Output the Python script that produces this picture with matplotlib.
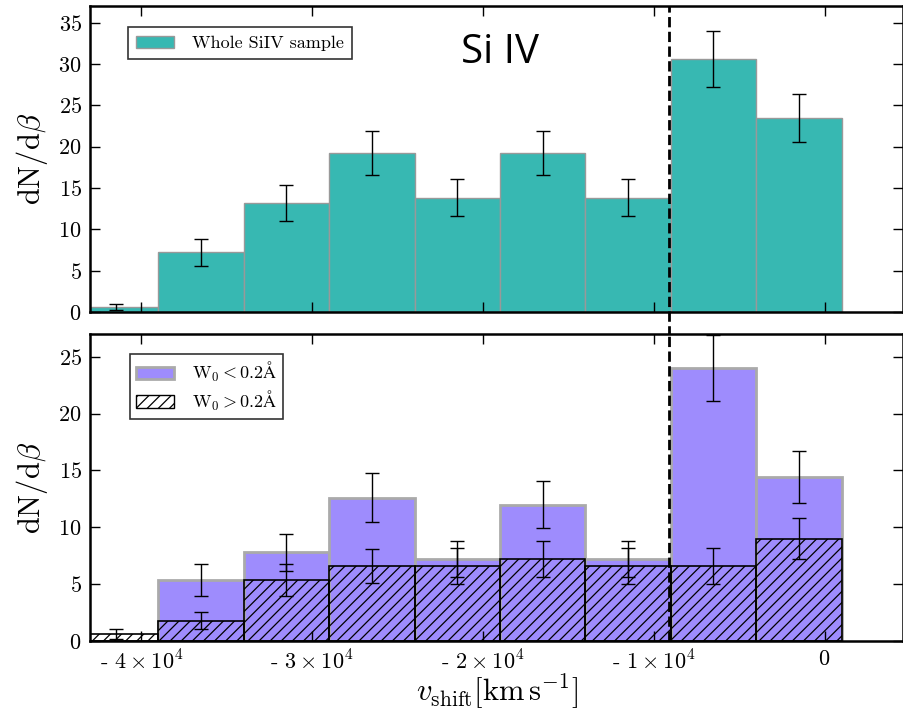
import numpy as np
import matplotlib
matplotlib.use('Agg')
import matplotlib.pyplot as plt
from matplotlib.patches import Patch

plt.rcParams['mathtext.fontset'] = 'cm'
plt.rcParams['font.family'] = 'serif'
plt.rcParams['font.serif'] = ['cmr10']
plt.rcParams['axes.formatter.use_mathtext'] = True
plt.rcParams['hatch.linewidth'] = 0.9

# bin centres of the velocity shift histogram [km/s], bin width 5000
bin_centers = [-41500, -36500, -31500, -26500, -21500, -16500, -11500, -6500, -1500]
bin_width = 5000

# whole SiIV sample
whole = [0.6, 7.2, 13.2, 19.2, 13.8, 19.2, 13.8, 30.6, 23.4]
whole_err = [0.4, 1.6, 2.2, 2.65, 2.25, 2.65, 2.25, 3.35, 2.9]

# W0 < 0.2 A
weak = [0.0, 5.4, 7.8, 12.6, 7.2, 12.0, 7.2, 24.0, 14.4]
weak_err = [0.0, 1.4, 1.65, 2.15, 1.6, 2.1, 1.6, 2.9, 2.27]

# W0 > 0.2 A
strong = [0.6, 1.8, 5.4, 6.6, 6.6, 7.2, 6.6, 6.6, 9.0]
strong_err = [0.43, 0.78, 1.4, 1.5, 1.55, 1.6, 1.55, 1.55, 1.79]

xticks = [-40000, -30000, -20000, -10000, 0]
xtick_labels = ['- ' + r'$4\times10^{4}$', '- ' + r'$3\times10^{4}$',
                '- ' + r'$2\times10^{4}$', '- ' + r'$1\times10^{4}$', r'$0$']
yticks_top = [0, 5, 10, 15, 20, 25, 30, 35]
yticks_bot = [0, 5, 10, 15, 20, 25]
v_cut = -9100

teal = '#37b8b2'
purple = '#9e8cfd'

fig = plt.figure(figsize=(9.04, 7.13), dpi=100)
ax1 = fig.add_axes([0.0996, 0.5624, 0.8994, 0.4292])
ax2 = fig.add_axes([0.0996, 0.1010, 0.8994, 0.4306])

# top panel
ax1.bar(bin_centers, whole, width=bin_width, color=teal, edgecolor='#999999',
        linewidth=1.0, label='Whole SiIV sample')
ax1.errorbar(bin_centers, whole, yerr=whole_err, fmt='none', ecolor='k',
             elinewidth=1, capsize=5, capthick=1)
ax1.set_ylim(0, 37)
ax1.set_yticks(yticks_top)
ax1.set_yticklabels([r'$%d$' % t for t in yticks_top])
ax1.text(-19000, 31.3, 'Si IV', fontsize=29, family='Open Sans',
         ha='center', va='center')
leg1 = ax1.legend(loc='upper left', bbox_to_anchor=(0.0467, 0.93), fontsize=13,
                  frameon=True, fancybox=False, handlelength=2.1,
                  borderpad=0.45, handletextpad=1.0, borderaxespad=0)
leg1.get_frame().set_edgecolor('k')
leg1.get_frame().set_linewidth(1.2)
ax1.axvline(v_cut, ymin=-0.08, ymax=1, color='k', ls='--', lw=2, clip_on=False)

# bottom panel
ax2.bar(bin_centers, weak, width=bin_width, color=purple, edgecolor='#aaaaaa',
        linewidth=2.0)
ax2.bar(bin_centers, strong, width=bin_width, fill=False, edgecolor='k',
        linewidth=1.2, hatch='///')
ax2.errorbar(bin_centers[1:], weak[1:], yerr=weak_err[1:], fmt='none', ecolor='k',
             elinewidth=1, capsize=5, capthick=1)
ax2.errorbar(bin_centers, strong, yerr=strong_err, fmt='none', ecolor='k',
             elinewidth=1, capsize=5, capthick=1)
ax2.set_ylim(0, 27)
ax2.set_yticks(yticks_bot)
ax2.set_yticklabels([r'$%d$' % t for t in yticks_bot])
ax2.axvline(v_cut, color='k', ls='--', lw=2)
handles = [Patch(facecolor=purple, edgecolor='#aaaaaa', linewidth=2),
           Patch(fill=False, edgecolor='k', hatch='///')]
labels = [r'$\mathrm{W_0} < 0.2\mathrm{\AA}$', r'$\mathrm{W_0} > 0.2\mathrm{\AA}$']
leg2 = ax2.legend(handles, labels, loc='upper left', bbox_to_anchor=(0.049, 0.935),
                  fontsize=13, frameon=True, fancybox=False, handlelength=2.1,
                  borderpad=0.35, handletextpad=1.0, labelspacing=0.25,
                  borderaxespad=0)
leg2.get_frame().set_edgecolor('k')
leg2.get_frame().set_linewidth(1.2)

for ax in (ax1, ax2):
    ax.set_xlim(-43000, 4600)
    ax.set_xticks(xticks)
    ax.tick_params(direction='in', top=True, right=True, length=7, width=1,
                   labelsize=16, pad=6)
    for s in ax.spines.values():
        s.set_linewidth(1.8)
    ax.set_ylabel(r'$\mathrm{dN/d}\beta$', fontsize=22, labelpad=6)

ax1.set_xticklabels([])
ax2.set_xticklabels(xtick_labels)
ax2.set_xlabel(r'$v_{\rm shift}[\rm km\,s^{-1}]$', fontsize=22, labelpad=0)

fig.savefig('out.png', dpi=100)
